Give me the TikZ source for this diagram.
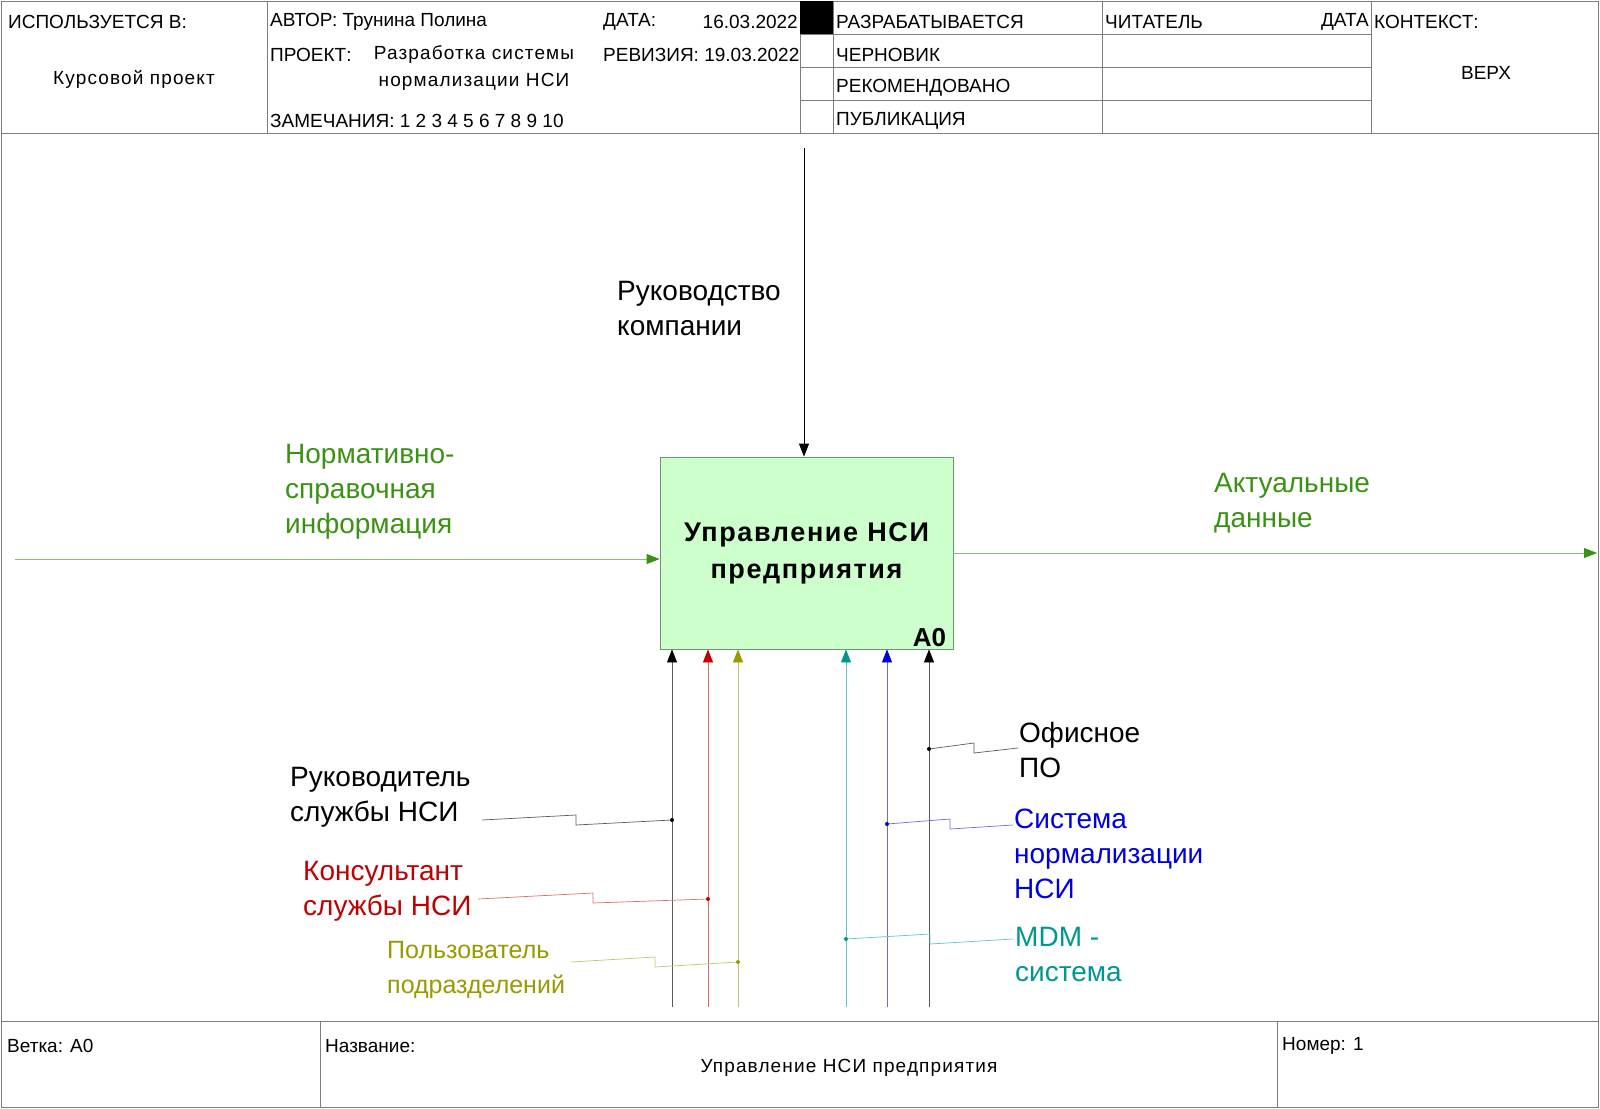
\documentclass[tikz,border=0pt]{standalone}
\usepackage{fontspec}
\setmainfont{Liberation Sans}
\newfontfamily\spacedfont[LetterSpace=6]{Liberation Sans}
\usepackage{xcolor}
\usepackage{tikz}
\usetikzlibrary{arrows.meta}
\definecolor{formline}{RGB}{125,125,125}
\definecolor{boxfill}{RGB}{204,255,204}
\definecolor{boxedge}{RGB}{110,150,110}
\definecolor{dgreen}{RGB}{58,146,18}
\definecolor{lgreen}{RGB}{140,190,120}
\definecolor{dred}{RGB}{192,0,0}
\definecolor{lred}{RGB}{215,110,110}
\definecolor{dolive}{RGB}{153,153,0}
\definecolor{lolive}{RGB}{195,195,110}
\definecolor{dblue}{RGB}{0,0,220}
\definecolor{lblue}{RGB}{110,110,210}
\definecolor{dteal}{RGB}{0,150,145}
\definecolor{lteal}{RGB}{100,195,195}
\definecolor{lblack}{RGB}{90,90,90}

\begin{document}
\begin{tikzpicture}[
    x=1pt, y=-1pt,
    box/.style={rectangle, draw=boxedge, line width=0.8pt, fill=boxfill, minimum width=293pt, minimum height=192pt, inner sep=0pt, align=center, font=\spacedfont\bfseries\fontsize{27}{37}\selectfont},
    arrow/.style 2 args={draw=#1, line width=0.8pt, -{Triangle[length=13pt,width=10pt,color=#2]}},
    wire/.style={draw=#1, line width=0.7pt},
    jdot/.style={circle, fill=#1, inner sep=0pt, minimum size=4pt},
    hdr/.style={anchor=west, inner sep=0pt, font=\fontsize{19}{21}\selectfont},
    hdrc/.style={inner sep=0pt, align=center, font=\spacedfont\fontsize{19}{27}\selectfont},
    lbl/.style={anchor=west, align=left, inner sep=0pt, text=#1, font=\fontsize{28}{35}\selectfont}
]
\useasboundingbox (0,0) rectangle (1600,1108);

\draw[formline, line width=0.8pt] (1,1) rectangle (1598,1107);
\draw[formline, line width=0.8pt] (1,133) -- (1598,133);
\draw[formline, line width=0.8pt] (1,1021) -- (1598,1021);
\draw[formline, line width=0.8pt] (267,1) -- (267,133);
\draw[formline, line width=0.8pt] (800,1) -- (800,133);
\draw[formline, line width=0.8pt] (833,1) -- (833,133);
\draw[formline, line width=0.8pt] (1102,1) -- (1102,133);
\draw[formline, line width=0.8pt] (1371,1) -- (1371,133);
\draw[formline, line width=0.8pt] (800,34) -- (1371,34);
\draw[formline, line width=0.8pt] (800,67) -- (1371,67);
\draw[formline, line width=0.8pt] (800,100) -- (1371,100);
\draw[formline, line width=0.8pt] (320,1021) -- (320,1107);
\draw[formline, line width=0.8pt] (1277,1021) -- (1277,1107);
\fill[black] (800,1) rectangle (833,34);

\node[hdr] (usedin) at (8,22) {ИСПОЛЬЗУЕТСЯ В:};
\node[hdrc] (course) at (134,79) {Курсовой проект};
\node[hdr] (author) at (270,22) {АВТОР: Трунина Полина};
\node[hdr] (project) at (270,55) {ПРОЕКТ:};
\node[hdrc, anchor=north] (projname) at (474,45) {Разработка системы\\нормализации НСИ};
\node[hdr] (notes) at (270,121) {ЗАМЕЧАНИЯ: 1 2 3 4 5 6 7 8 9 10};
\node[hdr] (date) at (603,22) {ДАТА:};
\node[hdr, anchor=east] (dateval) at (798,22) {16.03.2022};
\node[hdr] (rev) at (603,55) {РЕВИЗИЯ: 19.03.2022};
\node[hdr] (working) at (836,22) {РАЗРАБАТЫВАЕТСЯ};
\node[hdr] (draft) at (836,55) {ЧЕРНОВИК};
\node[hdr] (recom) at (836,88) {РЕКОМЕНДОВАНО};
\node[hdr] (publ) at (836,121) {ПУБЛИКАЦИЯ};
\node[hdr] (reader) at (1105,22) {ЧИТАТЕЛЬ};
\node[hdr, anchor=east] (rdate) at (1369,22) {ДАТА};
\node[hdr] (context) at (1374,22) {КОНТЕКСТ:};
\node[hdr, anchor=center] (top) at (1486,73) {ВЕРХ};

\node[hdr] (branch) at (7,1046) {Ветка: A0};
\node[hdr] (titlehd) at (325,1046) {Название:};
\node[hdrc, font=\spacedfont\fontsize{19}{21}\selectfont] (title) at (849,1068) {Управление НСИ предприятия};
\node[hdr] (number) at (1282,1046) {Номер: 1};

\node[box] (func) at (806.5,553) {Управление НСИ\\предприятия};
\node[anchor=south east, inner sep=0pt, font=\bfseries\fontsize{26}{30}\selectfont] (fnum) at ([xshift=-7pt,yshift=2pt]func.south east) {A0};

\coordinate (ctrl) at (804,148);
\coordinate (inp) at (15,559);
\coordinate (outp) at (1597,553);
\draw[arrow={black}{black}] (ctrl) -- (ctrl |- func.north);
\draw[arrow={lgreen}{dgreen}] (inp) -- (inp -| func.west);
\draw[arrow={lgreen}{dgreen}] (func.east) -- (outp);

\node[lbl=black] (ctrllbl) at (617,309) {Руководство\\компании};
\node[lbl=dgreen] (inplbl) at (285,492) {Нормативно-\\справочная\\информация};
\node[lbl=dgreen] (outlbl) at (1214,503) {Актуальные\\данные};

\coordinate (mhead) at (672,1007);
\coordinate (mcons) at (708,1007);
\coordinate (muser) at (738,1007);
\coordinate (mmdm) at (846,1007);
\coordinate (msys) at (887,1007);
\coordinate (moff) at (929,1007);
\draw[arrow={lblack}{black}] (mhead) -- (mhead |- func.south);
\draw[arrow={lred}{dred}] (mcons) -- (mcons |- func.south);
\draw[arrow={lolive}{dolive}] (muser) -- (muser |- func.south);
\draw[arrow={lteal}{dteal}] (mmdm) -- (mmdm |- func.south);
\draw[arrow={lblue}{dblue}] (msys) -- (msys |- func.south);
\draw[arrow={lblack}{black}] (moff) -- (moff |- func.south);

\node[jdot=black] (jhead) at (672,820) {};
\node[jdot=dred] (jcons) at (708,899) {};
\node[jdot=dolive] (juser) at (738,962) {};
\node[jdot=black] (joff) at (929,749) {};
\node[jdot=dblue] (jsys) at (887,824) {};
\node[jdot=dteal] (jmdm) at (846,939) {};

\node[lbl=black] (headlbl) at (290,797) {Руководитель\\службы НСИ};
\node[lbl=dred] (conslbl) at (303,891) {Консультант\\службы НСИ};
\node[lbl=dolive, font=\fontsize{25}{35}\selectfont] (userlbl) at (387,970) {Пользователь\\подразделений};
\node[lbl=black] (offlbl) at (1019,750) {Офисное\\ПО};
\node[lbl=dblue] (syslbl) at (1014,854) {Система\\нормализации\\НСИ};
\node[lbl=dteal] (mdmlbl) at (1015,954) {MDM -\\система};

\coordinate (shead) at (482,820);
\coordinate (scons) at (478,899);
\coordinate (suser) at (571,962);
\coordinate (soff) at (1018,748);
\coordinate (ssys) at (1013,825);
\coordinate (smdm) at (1013,939);
\draw[wire=lblack] (shead) -- (576,815) -- (576,825) -- (jhead);
\draw[wire=lred] (scons) -- (593,893) -- (593,903) -- (jcons);
\draw[wire=lolive] (suser) -- (655,957) -- (655,967) -- (juser);
\draw[wire=lblack] (joff) -- (974,743) -- (974,753) -- (soff);
\draw[wire=lblue] (jsys) -- (950,819) -- (950,829) -- (ssys);
\draw[wire=lteal] (jmdm) -- (930,934) -- (930,944) -- (smdm);
\end{tikzpicture}
\end{document}
